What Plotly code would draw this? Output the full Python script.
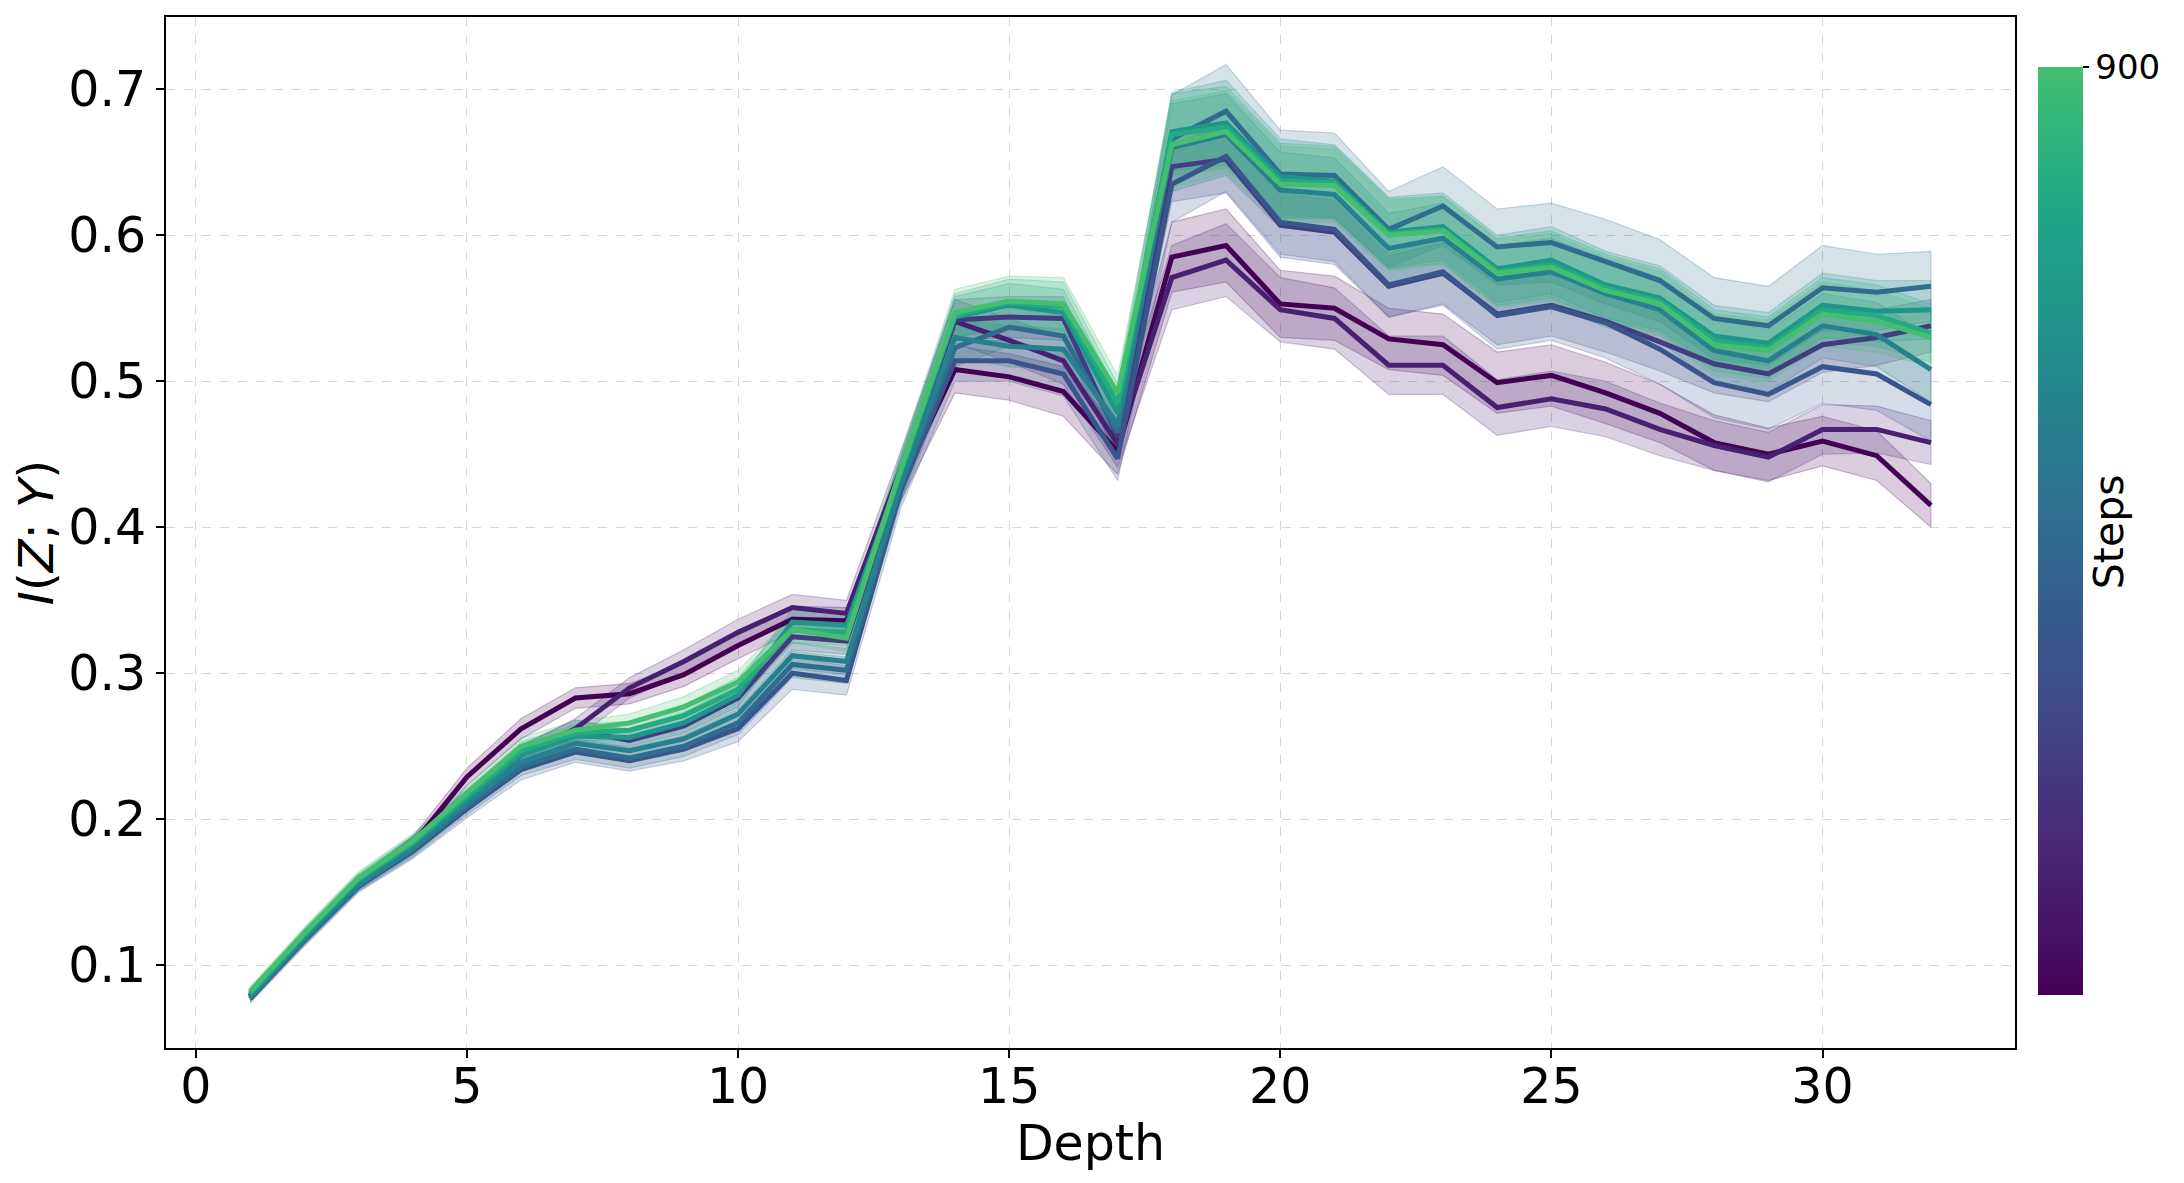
import plotly.graph_objects as go

depth = list(range(1, 33))
steps = [100, 200, 300, 400, 500, 600, 700, 800, 900]

# mean I(Z;Y) per step (A = earliest step ... I = latest step)
mi_A = [0.079, 0.120, 0.156, 0.183, 0.229, 0.262, 0.283, 0.286, 0.299, 0.319, 0.337, 0.336,
        0.430, 0.508, 0.503, 0.493, 0.452, 0.585, 0.593, 0.553, 0.550, 0.529, 0.525, 0.499,
        0.504, 0.492, 0.478, 0.458, 0.450, 0.459, 0.449, 0.415]
mi_B = [0.079, 0.119, 0.157, 0.182, 0.213, 0.244, 0.262, 0.290, 0.308, 0.328, 0.345, 0.341,
        0.440, 0.541, 0.528, 0.514, 0.457, 0.571, 0.583, 0.549, 0.543, 0.511, 0.511, 0.482,
        0.488, 0.481, 0.467, 0.456, 0.448, 0.467, 0.467, 0.458]
mi_C = [0.079, 0.120, 0.157, 0.183, 0.214, 0.245, 0.261, 0.254, 0.264, 0.283, 0.325, 0.322,
        0.436, 0.542, 0.544, 0.543, 0.462, 0.647, 0.652, 0.607, 0.602, 0.565, 0.574, 0.546,
        0.552, 0.541, 0.527, 0.512, 0.505, 0.525, 0.530, 0.538]
mi_D = [0.077, 0.117, 0.154, 0.178, 0.207, 0.234, 0.246, 0.240, 0.248, 0.262, 0.300, 0.295,
        0.425, 0.514, 0.514, 0.505, 0.447, 0.635, 0.654, 0.609, 0.604, 0.566, 0.575, 0.545,
        0.551, 0.540, 0.522, 0.499, 0.491, 0.510, 0.505, 0.484]
mi_E = [0.078, 0.118, 0.155, 0.179, 0.209, 0.236, 0.248, 0.242, 0.250, 0.266, 0.306, 0.302,
        0.428, 0.523, 0.537, 0.531, 0.465, 0.666, 0.685, 0.642, 0.641, 0.604, 0.620, 0.592,
        0.595, 0.582, 0.569, 0.543, 0.538, 0.564, 0.561, 0.565]
mi_F = [0.078, 0.118, 0.155, 0.180, 0.211, 0.239, 0.252, 0.247, 0.255, 0.272, 0.312, 0.308,
        0.430, 0.530, 0.524, 0.522, 0.470, 0.660, 0.669, 0.631, 0.628, 0.591, 0.598, 0.570,
        0.575, 0.560, 0.549, 0.521, 0.514, 0.538, 0.532, 0.508]
mi_G = [0.080, 0.120, 0.158, 0.183, 0.214, 0.244, 0.257, 0.256, 0.266, 0.285, 0.335, 0.333,
        0.437, 0.544, 0.552, 0.547, 0.478, 0.671, 0.677, 0.640, 0.637, 0.602, 0.606, 0.577,
        0.583, 0.566, 0.557, 0.531, 0.526, 0.552, 0.548, 0.549]
mi_H = [0.081, 0.121, 0.159, 0.184, 0.216, 0.247, 0.259, 0.261, 0.271, 0.289, 0.330, 0.328,
        0.438, 0.545, 0.554, 0.551, 0.485, 0.669, 0.674, 0.637, 0.636, 0.601, 0.604, 0.575,
        0.580, 0.564, 0.555, 0.528, 0.523, 0.549, 0.545, 0.533]
mi_I = [0.082, 0.122, 0.160, 0.185, 0.218, 0.250, 0.261, 0.266, 0.277, 0.294, 0.330, 0.324,
        0.440, 0.547, 0.555, 0.553, 0.492, 0.662, 0.671, 0.635, 0.634, 0.600, 0.603, 0.574,
        0.578, 0.562, 0.553, 0.525, 0.521, 0.546, 0.541, 0.530]

# standard deviation per step
sd_A = [0.003, 0.004, 0.004, 0.005, 0.006, 0.007, 0.007, 0.007, 0.008, 0.009, 0.009, 0.009,
        0.012, 0.016, 0.016, 0.017, 0.016, 0.024, 0.025, 0.023, 0.022, 0.021, 0.021, 0.021,
        0.021, 0.021, 0.020, 0.019, 0.018, 0.017, 0.017, 0.015]
sd_B = [0.003, 0.004, 0.004, 0.005, 0.006, 0.006, 0.007, 0.007, 0.008, 0.009, 0.009, 0.009,
        0.012, 0.015, 0.015, 0.016, 0.016, 0.022, 0.025, 0.022, 0.021, 0.020, 0.020, 0.019,
        0.019, 0.019, 0.018, 0.017, 0.017, 0.017, 0.016, 0.015]
sd_C = [0.003, 0.004, 0.004, 0.005, 0.006, 0.006, 0.007, 0.007, 0.007, 0.008, 0.009, 0.009,
        0.011, 0.014, 0.014, 0.015, 0.015, 0.024, 0.023, 0.022, 0.022, 0.021, 0.021, 0.021,
        0.021, 0.021, 0.020, 0.020, 0.019, 0.019, 0.019, 0.018]
sd_D = [0.003, 0.004, 0.004, 0.005, 0.006, 0.007, 0.007, 0.007, 0.008, 0.009, 0.011, 0.010,
        0.012, 0.014, 0.014, 0.015, 0.015, 0.026, 0.024, 0.022, 0.022, 0.022, 0.023, 0.023,
        0.023, 0.024, 0.024, 0.024, 0.024, 0.025, 0.025, 0.025]
sd_E = [0.003, 0.004, 0.004, 0.005, 0.006, 0.006, 0.007, 0.007, 0.007, 0.008, 0.009, 0.009,
        0.011, 0.013, 0.013, 0.014, 0.015, 0.030, 0.032, 0.030, 0.029, 0.026, 0.027, 0.026,
        0.027, 0.029, 0.028, 0.028, 0.027, 0.029, 0.026, 0.024]
sd_F = [0.003, 0.004, 0.004, 0.005, 0.005, 0.006, 0.006, 0.006, 0.007, 0.008, 0.009, 0.009,
        0.011, 0.013, 0.014, 0.014, 0.014, 0.030, 0.028, 0.026, 0.025, 0.024, 0.024, 0.023,
        0.023, 0.023, 0.022, 0.022, 0.021, 0.022, 0.022, 0.022]
sd_G = [0.003, 0.004, 0.004, 0.005, 0.005, 0.006, 0.006, 0.006, 0.007, 0.008, 0.009, 0.009,
        0.011, 0.014, 0.015, 0.016, 0.014, 0.027, 0.029, 0.026, 0.025, 0.024, 0.023, 0.023,
        0.023, 0.023, 0.022, 0.021, 0.021, 0.022, 0.021, 0.020]
sd_H = [0.003, 0.004, 0.004, 0.005, 0.005, 0.006, 0.006, 0.006, 0.007, 0.008, 0.009, 0.009,
        0.011, 0.015, 0.016, 0.017, 0.013, 0.028, 0.028, 0.026, 0.025, 0.024, 0.023, 0.023,
        0.023, 0.023, 0.022, 0.021, 0.021, 0.022, 0.021, 0.020]
sd_I = [0.003, 0.004, 0.004, 0.005, 0.005, 0.006, 0.006, 0.006, 0.007, 0.008, 0.009, 0.009,
        0.011, 0.016, 0.017, 0.018, 0.012, 0.030, 0.028, 0.026, 0.025, 0.024, 0.023, 0.023,
        0.023, 0.023, 0.022, 0.021, 0.021, 0.022, 0.021, 0.020]

means = [mi_A, mi_B, mi_C, mi_D, mi_E, mi_F, mi_G, mi_H, mi_I]
sds = [sd_A, sd_B, sd_C, sd_D, sd_E, sd_F, sd_G, sd_H, sd_I]

x_ticks = [0, 5, 10, 15, 20, 25, 30]
y_ticks = [0.1, 0.2, 0.3, 0.4, 0.5, 0.6, 0.7]

# viridis, truncated to 0..0.7
vir = ['#440154', '#471365', '#482475', '#463480', '#414487', '#3b528b', '#355f8d',
       '#2f6c8e', '#2a788e', '#25848e', '#21918c', '#1e9c89', '#22a884', '#2fb47c', '#44bf70']
cscale = [[i / (len(vir) - 1), c] for i, c in enumerate(vir)]
line_colors = ['#440154', '#482071', '#433c83', '#39558b', '#2f6c8e',
               '#26818e', '#1f968a', '#25ab82', '#44bf70']


def rgba(h, a):
    h = h.lstrip('#')
    r, g, b = int(h[0:2], 16), int(h[2:4], 16), int(h[4:6], 16)
    return f'rgba({r},{g},{b},{a})'


fig = go.Figure()
FONT = 'DejaVu Sans'

# bands first (below all lines)
for m, s, c in zip(means, sds, line_colors):
    upper = [a + b for a, b in zip(m, s)]
    lower = [a - b for a, b in zip(m, s)]
    fig.add_trace(go.Scatter(
        x=depth + depth[::-1], y=upper + lower[::-1],
        fill='toself', fillcolor=rgba(c, 0.2),
        line=dict(color=rgba(c, 0.25), width=1.2),
        mode='lines', hoverinfo='skip', showlegend=False))

for m, c, st in zip(means, line_colors, steps):
    fig.add_trace(go.Scatter(
        x=depth, y=m, mode='lines', line=dict(color=c, width=5),
        name=str(st), showlegend=False))

# colorbar holder
fig.add_trace(go.Scatter(
    x=[depth[0]], y=[mi_A[0]], mode='markers', hoverinfo='skip', showlegend=False,
    marker=dict(size=1, opacity=0, color=[steps[-1]], colorscale=cscale,
                cmin=steps[0], cmax=steps[-1], showscale=True,
                colorbar=dict(x=1.0124, xanchor='left', y=0.5012, yanchor='middle',
                              len=0.8998, lenmode='fraction', thickness=45,
                              outlinewidth=0, xpad=0, ypad=0,
                              tickvals=[steps[-1]], ticktext=[str(steps[-1])],
                              ticks='outside', ticklen=6, tickwidth=1.5, tickcolor='black',
                              tickfont=dict(family=FONT, size=34, color='black')))))

fig.add_annotation(text='Steps', x=1.0508, y=0.5012, xref='paper', yref='paper',
                   textangle=-90, showarrow=False, xanchor='center', yanchor='middle',
                   font=dict(family=FONT, size=41, color='black'))

axis_common = dict(showline=True, linecolor='black', linewidth=1.8, mirror=True,
                   ticks='outside', ticklen=8, tickwidth=1.8, tickcolor='black',
                   showgrid=True, gridcolor='#d6d6d6', gridwidth=1.3, griddash='dash',
                   zeroline=False, tickfont=dict(family=FONT, size=49, color='black'))

fig.update_xaxes(range=[-0.55, 33.55], tickvals=x_ticks, ticklabelstandoff=-14,
                 title=dict(text='Depth', font=dict(family=FONT, size=49, color='black'),
                            standoff=10),
                 **axis_common)
fig.update_yaxes(range=[0.0433, 0.7495], tickvals=y_ticks, tickformat='.1f',
                 title=dict(text='<i>I</i>(<i>Z</i>; <i>Y</i>)',
                            font=dict(family=FONT, size=48, color='black'), standoff=9),
                 **axis_common)

# the page body adds an 8 px offset, so the figure is 8 px smaller on each axis
fig.update_layout(width=2176, height=1175, paper_bgcolor='white', plot_bgcolor='white',
                  margin=dict(l=158, r=169, t=7, b=135), showlegend=False,
                  font=dict(family=FONT, color='black'))

fig.write_html('out.html')
